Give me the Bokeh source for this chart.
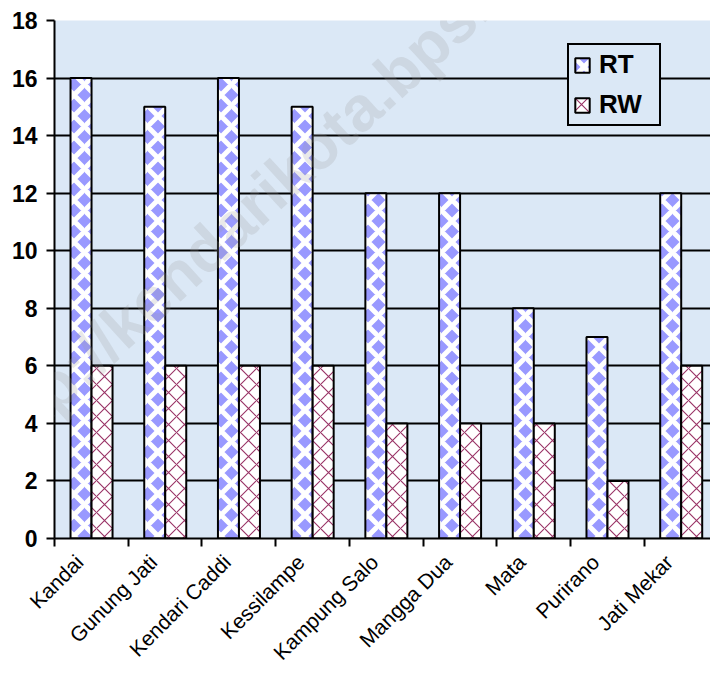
import math
from bokeh.plotting import figure
from bokeh.models import (Range1d, FixedTicker, Legend, LegendItem,
                          Label, ColumnDataSource)
from bokeh.embed import file_html
from bokeh.resources import INLINE

categories = ["Kandai", "Gunung Jati", "Kendari Caddi", "Kessilampe", "Kampung Salo",
              "Mangga Dua", "Mata", "Purirano", "Jati Mekar"]
rt_values = [16, 15, 16, 15, 12, 12, 8, 7, 12]
rw_values = [6, 6, 6, 6, 4, 4, 4, 2, 6]
y_ticks = [0, 2, 4, 6, 8, 10, 12, 14, 16, 18]
series_names = ["RT", "RW"]

FONT = "Liberation Sans"
BG = "#dbe8f6"
BLUE = "#9999ff"
PLUM = "#993366"

idx = list(range(len(categories)))
src = ColumnDataSource(dict(
    rt_x=[i + 0.36 for i in idx],
    rw_x=[i + 0.645 for i in idx],
    rt=rt_values,
    rw=rw_values,
))

p = figure(width=710, height=675, output_backend="svg", toolbar_location=None,
           x_range=Range1d(0, 8.9), y_range=Range1d(0, 18),
           min_border_left=54, min_border_right=0, min_border_top=20, min_border_bottom=136)
p.background_fill_color = BG
p.border_fill_color = "white"
p.outline_line_color = None

p.ygrid.ticker = FixedTicker(ticks=y_ticks)
p.ygrid.grid_line_color = "black"
p.ygrid.grid_line_width = 2
p.xgrid.grid_line_color = None

# RT: blue diamonds separated by a white diagonal lattice
r_rt = p.vbar(x="rt_x", top="rt", bottom=0, width=0.285, source=src,
              fill_color=BLUE, line_color="black", line_width=2,
              hatch_pattern="diagonal_cross",
              hatch_color="white", hatch_scale=21, hatch_weight=5)
# RW: plum lattice on white
r_rw = p.vbar(x="rw_x", top="rw", bottom=0, width=0.285, source=src,
              fill_color="white", line_color="black", line_width=2,
              hatch_pattern="diagonal_cross",
              hatch_color=PLUM, hatch_scale=16, hatch_weight=1.1)

# y axis
ya = p.yaxis[0]
ya.ticker = FixedTicker(ticks=y_ticks)
ya.axis_line_color = "black"
ya.axis_line_width = 2
ya.major_tick_line_color = "black"
ya.major_tick_line_width = 2
ya.major_tick_out = 8
ya.major_tick_in = 0
ya.minor_tick_line_color = None
ya.major_label_standoff = 9
ya.major_label_text_font = FONT
ya.major_label_text_font_style = "bold"
ya.major_label_text_font_size = "23px"
ya.major_label_text_color = "black"

# x axis: labels at categories, tick marks (minor) at category boundaries
bounds = list(range(len(categories) + 1))
lab_pos = [i + 0.34 for i in idx]
xa = p.xaxis[0]
xa.ticker = FixedTicker(ticks=lab_pos, minor_ticks=bounds)
xa.major_label_overrides = {x: c for x, c in zip(lab_pos, categories)}
xa.axis_line_color = "black"
xa.axis_line_width = 2
xa.major_tick_line_color = None
xa.major_tick_out = 0
xa.major_tick_in = 0
xa.minor_tick_line_color = "black"
xa.minor_tick_line_width = 2
xa.minor_tick_out = 8
xa.minor_tick_in = 0
xa.major_label_orientation = math.pi / 4
xa.major_label_standoff = 12
xa.major_label_text_font = FONT
xa.major_label_text_font_size = "21px"
xa.major_label_text_color = "black"

legend = Legend(items=[LegendItem(label=series_names[0], renderers=[r_rt]),
                       LegendItem(label=series_names[1], renderers=[r_rw])],
                location=(513, 412))
legend.background_fill_color = BG
legend.background_fill_alpha = 1
legend.border_line_color = "black"
legend.border_line_alpha = 1
legend.border_line_width = 2
legend.label_text_font = FONT
legend.label_text_font_style = "bold"
legend.label_text_font_size = "26px"
legend.label_text_color = "black"
legend.glyph_width = 18
legend.glyph_height = 18
legend.label_standoff = 8
legend.label_width = 56
legend.spacing = 9
legend.padding = 4
legend.margin = 0
p.add_layout(legend)

wm = Label(x=-49, y=59, x_units="screen", y_units="screen",
           text="http://kendarikota.bps.go.id", angle=42.5, angle_units="deg",
           text_font=FONT, text_font_style="bold", text_font_size="63px",
           text_color="#999999", text_alpha=0.22)
p.add_layout(wm)

open("out.html", "w").write(file_html(p, INLINE))
